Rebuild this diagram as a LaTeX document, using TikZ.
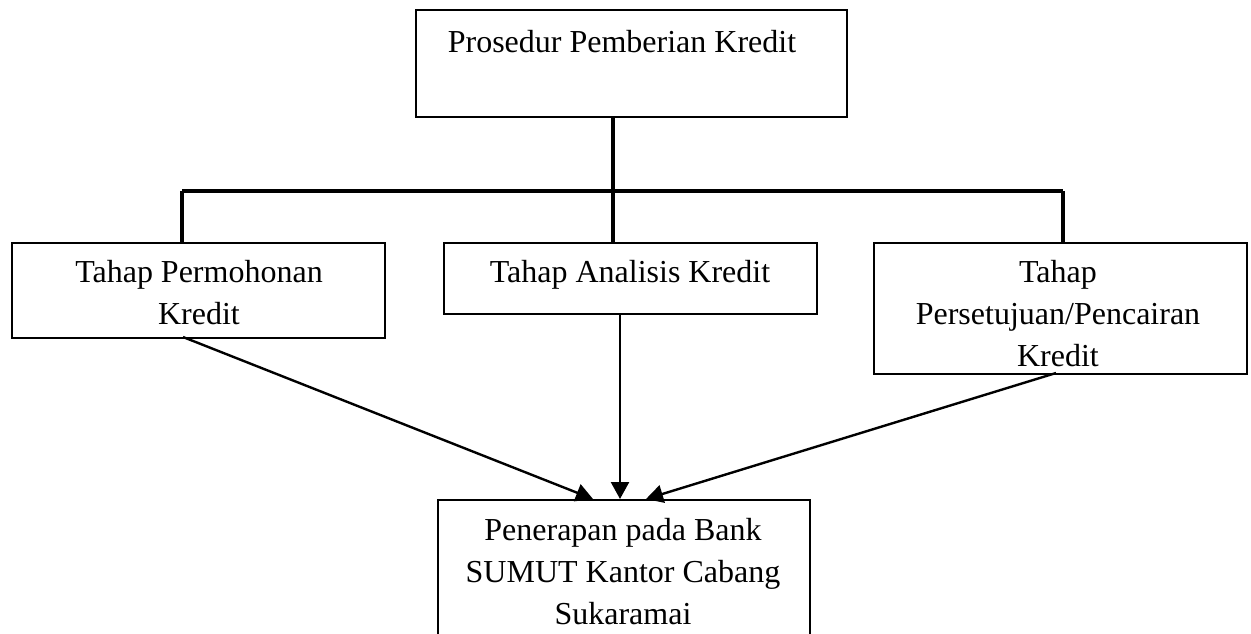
\documentclass[tikz,border=0pt]{standalone}
\usepackage{fontspec}
\setmainfont{Liberation Serif}
\usetikzlibrary{arrows.meta}
\tikzset{
  boxnode/.style={draw=black, line width=1.6pt, rectangle, anchor=north west, inner sep=0pt},
  txt/.style={anchor=north, inner sep=0pt, align=center, font=\fontsize{32}{42}\selectfont},
  tree/.style={line width=3.2pt},
  arr/.style={line width=2.4pt, -{Triangle[length=17pt,width=18pt]}}
}
\begin{document}
\begin{tikzpicture}[x=1pt,y=-1pt]
\useasboundingbox (0,0) rectangle (1251,633);
\clip (0,0) rectangle (1251,633);
% boxes
\node[boxnode, minimum width=431pt, minimum height=107pt] (top) at (415,9) {};
\node[boxnode, minimum width=373pt, minimum height=95pt] (b1) at (11,242) {};
\node[boxnode, minimum width=373pt, minimum height=71pt] (b2) at (443,242) {};
\node[boxnode, minimum width=373pt, minimum height=131pt] (b3) at (873,242) {};
\node[boxnode, minimum width=372pt, minimum height=160pt] (b4) at (437,499) {};
% texts
\node[txt] (ttop) at (622,30) {Prosedur Pemberian Kredit};
\node[txt] (tb1) at (199,260) {Tahap Permohonan\\Kredit};
\node[txt] (tb2) at (630,260) {Tahap Analisis Kredit};
\node[txt] (tb3) at (1058,260) {Tahap\\Persetujuan/Pencairan\\Kredit};
\node[txt] (tb4) at (623,518) {Penerapan pada Bank\\SUMUT Kantor Cabang\\Sukaramai};
% tree connectors
\coordinate (jm) at (613,191);
\coordinate (jl) at (182,191);
\coordinate (jr) at (1063,191);
\draw[tree] (top.south -| jm) -- (jm);
\draw[tree] (jl) -- (jr);
\draw[tree] (jl) -- (b1.north -| jl);
\draw[tree] (jm) -- (b2.north -| jm);
\draw[tree] (jr) -- (b3.north -| jr);
% arrows
\coordinate (a1s) at (183,337);
\coordinate (a1e) at (593,499);
\coordinate (a2s) at (620,313);
\coordinate (a2e) at (620,499);
\coordinate (a3s) at (1056,373);
\coordinate (a3e) at (646,499);
\draw[arr] (a1s) -- (a1e);
\draw[arr] (a2s) -- (a2e);
\draw[arr] (a3s) -- (a3e);
\end{tikzpicture}
\end{document}
